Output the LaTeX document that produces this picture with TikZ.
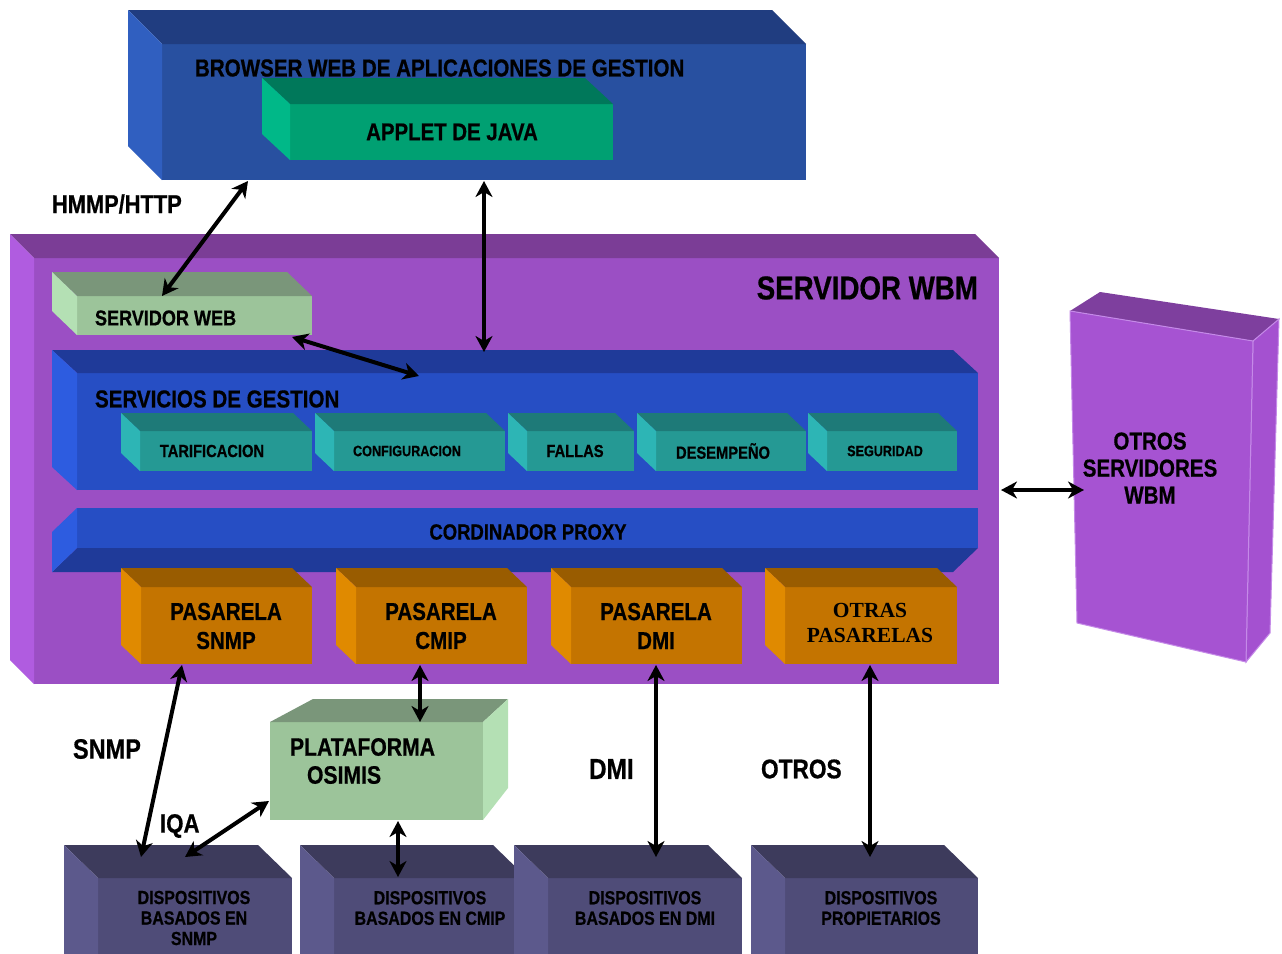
\documentclass[tikz,border=0pt]{standalone}
\usepackage{fontspec}
\setmainfont{Liberation Sans}
\newfontfamily\heavy{Liberation Sans Bold}[FakeStretch=0.84,FakeBold=0.6]
\newfontfamily\serifbold{Liberation Serif Bold}
\usetikzlibrary{arrows.meta,calc}

% palette
\definecolor{brFront}{HTML}{2850A0}\definecolor{brTop}{HTML}{203D80}\definecolor{brSide}{HTML}{305FC0}
\definecolor{apFront}{HTML}{00A072}\definecolor{apTop}{HTML}{00785A}\definecolor{apSide}{HTML}{00B888}
\definecolor{wbFront}{HTML}{9B4FC4}\definecolor{wbTop}{HTML}{7B3D96}\definecolor{wbSide}{HTML}{B05CE0}
\definecolor{gnFront}{HTML}{9CC49A}\definecolor{gnTop}{HTML}{7A967A}\definecolor{gnSide}{HTML}{B4E0B4}
\definecolor{blFront}{HTML}{264EC4}\definecolor{blTop}{HTML}{1F3A99}\definecolor{blSide}{HTML}{2D5CE0}
\definecolor{tlFront}{HTML}{259994}\definecolor{tlTop}{HTML}{1E7A78}\definecolor{tlSide}{HTML}{2DB5B5}
\definecolor{orFront}{HTML}{C47400}\definecolor{orTop}{HTML}{995C00}\definecolor{orSide}{HTML}{E08A00}
\definecolor{dvFront}{HTML}{4F4C78}\definecolor{dvTop}{HTML}{3D3B5C}\definecolor{dvSide}{HTML}{5C598C}
\definecolor{otFront}{HTML}{A653D2}\definecolor{otTop}{HTML}{7E3F9E}\definecolor{otSide}{HTML}{A451D0}
\definecolor{otEdge}{HTML}{C58AE8}

\newcommand\fsz[2]{\fontsize{#1}{#2}\selectfont}

% top and left faces of a box whose front face is node #1, depth (#2,#3)
\newcommand\boxfaces[5]{%
  \fill[#4] (#1.north west) -- ++(-#2,-#3) -- ($(#1.north east)+(-#2,-#3)$) -- (#1.north east) -- cycle;
  \fill[#5] (#1.north west) -- ++(-#2,-#3) -- ($(#1.south west)+(-#2,-#3)$) -- (#1.south west) -- cycle;}

\begin{document}
\begin{tikzpicture}[x=1pt,y=-1pt,
  face/.style={inner sep=0pt,outer sep=0pt,anchor=north west},
  txt/.style={inner sep=0pt,outer sep=0pt},
  link/.style={line width=4pt,
    {Stealth[length=16pt,width=17pt,inset=5pt]}-{Stealth[length=16pt,width=17pt,inset=5pt]}}]

\useasboundingbox (0,0) rectangle (1282,953);
\fill[white] (0,0) rectangle (1282,953);
\clip (0,0) rectangle (1282,953);

% ---------- browser ----------
\node[face,fill=brFront,minimum width=644pt,minimum height=136pt] (browser) at (162,44) {};
\boxfaces{browser}{34}{34}{brTop}{brSide}
\node[txt,anchor=west,font=\heavy\fsz{24.5}{28}] (tbrowser) at (195,68) {BROWSER WEB DE APLICACIONES DE GESTION};
\node[face,fill=apFront,minimum width=323pt,minimum height=56pt] (applet) at (290,104) {};
\boxfaces{applet}{28}{26}{apTop}{apSide}
\node[txt,font=\heavy\fsz{24.3}{27}] (tapplet) at (452,132) {APPLET DE JAVA};

% ---------- servidor WBM ----------
\node[face,fill=wbFront,minimum width=965pt,minimum height=426pt] (wbm) at (34,258) {};
\boxfaces{wbm}{24}{24}{wbTop}{wbSide}
\node[txt,anchor=east,font=\heavy\fsz{33}{36}] (twbm) at (978,288) {SERVIDOR WBM};

\node[face,fill=gnFront,minimum width=235pt,minimum height=39pt] (sweb) at (77,296) {};
\boxfaces{sweb}{25}{24}{gnTop}{gnSide}
\node[txt,anchor=west,font=\heavy\fsz{21.5}{24}] (tsweb) at (95,318) {SERVIDOR WEB};

\node[face,fill=blFront,minimum width=901pt,minimum height=117pt] (sgest) at (77,373) {};
\boxfaces{sgest}{25}{23}{blTop}{blSide}
\node[txt,anchor=west,font=\heavy\fsz{24.5}{28}] (tsgest) at (95,399) {SERVICIOS DE GESTION};

% management services
\foreach \nm/\xa/\xb/\lab/\sz/\tx in {tarif/140/312/TARIFICACION/17.5/212,
    config/334/505/CONFIGURACION/15/407,
    fallas/527/634/FALLAS/17.5/575,
    desemp/656/806/DESEMPEÑO/17.5/723,
    segur/827/957/SEGURIDAD/15/885}{
  \node[face,fill=tlFront,minimum width={\xb-\xa},minimum height=40pt] (\nm) at (\xa,431) {};
  \boxfaces{\nm}{19}{18}{tlTop}{tlSide}
  \node[txt,font=\heavy\fsz{\sz}{20}] (t\nm) at (\tx,451) {\lab};
}

% proxy bar, seen from below
\node[face,fill=blFront,minimum width=901pt,minimum height=40pt] (proxy) at (77,508) {};
\fill[blTop] (proxy.south west) -- ++(-25,24) -- ($(proxy.south east)+(-25,24)$) -- (proxy.south east) -- cycle;
\fill[blSide] (proxy.north west) -- ++(-25,24) -- ($(proxy.south west)+(-25,24)$) -- (proxy.south west) -- cycle;
\node[txt,font=\heavy\fsz{22}{25}] (tproxy) at (528,532) {CORDINADOR PROXY};

% gateways
\foreach \nm/\xa/\xb in {pas1/141/312,pas2/356/527,pas3/571/742,pas4/785/957}{
  \node[face,fill=orFront,minimum width={\xb-\xa},minimum height=77pt] (\nm) at (\xa,587) {};
  \boxfaces{\nm}{20}{19}{orTop}{orSide}
}
\node[txt,align=center,font=\heavy\fsz{24.5}{29}] (tpas1) at (226,626) {PASARELA\\SNMP};
\node[txt,align=center,font=\heavy\fsz{24.5}{29}] (tpas2) at (441,626) {PASARELA\\CMIP};
\node[txt,align=center,font=\heavy\fsz{24.5}{29}] (tpas3) at (656,626) {PASARELA\\DMI};
\node[txt,align=center,font=\serifbold\fsz{21.5}{25}] (tpas4) at (870,623) {OTRAS\\PASARELAS};

% ---------- other WBM servers ----------
\fill[otTop] (1070,311) -- (1100,292) -- (1279,319) -- (1253,341) -- cycle;
\fill[otSide,draw=otEdge,line width=1pt] (1253,341) -- (1279,319) -- (1270,633) -- (1246,662) -- cycle;
\fill[otFront,draw=otEdge,line width=1pt] (1070,311) -- (1253,341) -- (1246,662) -- (1077,623) -- cycle;
\node[txt,align=center,font=\heavy\fsz{24.5}{27}] (otros) at (1150,468) {OTROS\\SERVIDORES\\WBM};
\coordinate (otrosL) at (1084,490);

% ---------- OSIMIS platform ----------
\node[face,fill=gnFront,minimum width=213pt,minimum height=98pt] (osimis) at (270,722) {};
\fill[gnTop] (osimis.north west) -- (313,699) -- (508,699) -- (osimis.north east) -- cycle;
\fill[gnSide] (osimis.north east) -- (508,699) -- (508,788) -- (osimis.south east) -- cycle;
\node[txt,anchor=west,font=\heavy\fsz{25.2}{28}] (tosi1) at (290,747) {PLATAFORMA};
\node[txt,anchor=west,font=\heavy\fsz{25.2}{28}] (tosi2) at (307,775) {OSIMIS};

% ---------- devices ----------
\foreach \nm/\xa/\xb in {dev1/98/292,dev2/334/527,dev3/548/742,dev4/785/978}{
  \node[face,fill=dvFront,minimum width={\xb-\xa},minimum height=120pt] (\nm) at (\xa,878) {};
  \boxfaces{\nm}{34}{33}{dvTop}{dvSide}
}
\node[txt,align=center,font=\heavy\fsz{19}{20.5}] (tdev1) at (194,918) {DISPOSITIVOS\\BASADOS EN\\SNMP};
\node[txt,align=center,font=\heavy\fsz{19}{20.5}] (tdev2) at (430,908) {DISPOSITIVOS\\BASADOS EN CMIP};
\node[txt,align=center,font=\heavy\fsz{19}{20.5}] (tdev3) at (645,908) {DISPOSITIVOS\\BASADOS EN DMI};
\node[txt,align=center,font=\heavy\fsz{19}{20.5}] (tdev4) at (881,908) {DISPOSITIVOS\\PROPIETARIOS};

% ---------- protocol labels ----------
\node[txt,anchor=west,font=\heavy\fsz{26}{28}] (lhttp) at (52,204) {HMMP/HTTP};
\node[txt,anchor=west,font=\heavy\fsz{28}{30}] (lsnmp) at (73,749) {SNMP};
\node[txt,anchor=west,font=\heavy\fsz{26.5}{28}] (liqa) at (160,826) {IQA};
\node[txt,anchor=west,font=\heavy\fsz{29}{30}] (ldmi) at (589,769) {DMI};
\node[txt,anchor=west,font=\heavy\fsz{27}{30}] (lotros) at (761,769) {OTROS};

% ---------- connections ----------
\draw[link] ($(browser.south west)+(86,1)$) -- ($(sweb.north west)+(85,0)$);
\draw[link] ($(browser.south west)+(322,1)$) -- ($(sgest.north west)+(407,-21)$);
\draw[link] ($(sweb.south east)+(-20,2)$) -- ($(sgest.north west)+(342,3)$);
\draw[link] ($(wbm.south east)+(2,-194)$) -- (otrosL);
\draw[link] ($(pas1.south west)+(41,1)$) -- ($(dev1.north west)+(43,-21)$);
\draw[link] ($(osimis.south west)+(-1,-19)$) -- ($(dev1.north west)+(87,-21)$);
\draw[link] ($(pas2.south west)+(64,1)$) -- ($(osimis.north west)+(150,0)$);
\draw[link] ($(osimis.south west)+(128,1)$) -- ($(dev2.north west)+(64,-1)$);
\draw[link] ($(pas3.south west)+(85,1)$) -- ($(dev3.north west)+(108,-21)$);
\draw[link] ($(pas4.south west)+(85,1)$) -- ($(dev4.north west)+(85,-21)$);
\end{tikzpicture}
\end{document}
